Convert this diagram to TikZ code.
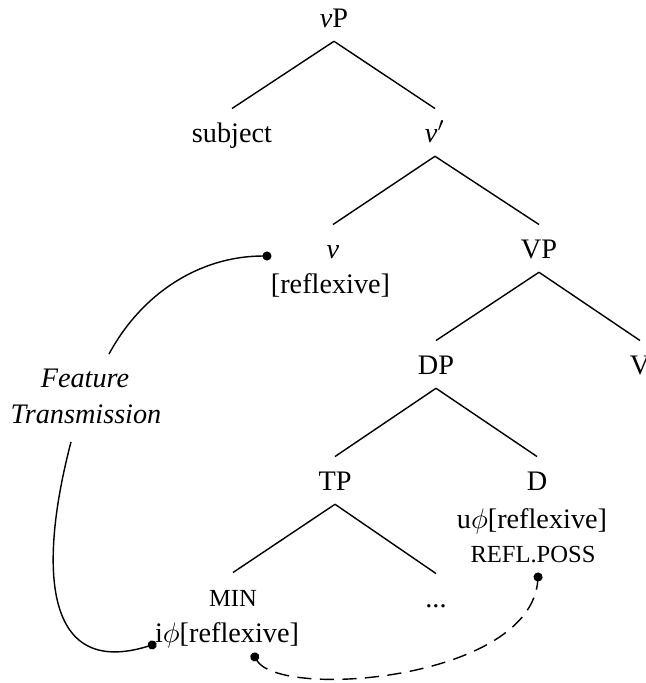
\documentclass[tikz,border=0pt]{standalone}
\usepackage{fontspec}
\setmainfont{Liberation Serif}
\usetikzlibrary{arrows.meta}
\tikzset{tnode/.style={anchor=base, inner xsep=0pt, inner ysep=4.8pt, text height=6.8pt, text depth=0pt},
  flat/.style={anchor=base, inner sep=0pt},
  dot/.style={-{Circle[length=3.2pt]}},
  dotdot/.style={{Circle[length=3.2pt]}-{Circle[length=3.2pt]}, dash pattern=on 5pt off 3pt}}
\newcommand{\smc}[1]{{\fontsize{8.7}{10}\selectfont #1}}

\begin{document}
\begin{tikzpicture}[x=1.244cm, y=-1.244cm, line width=0.5pt]
\useasboundingbox (0,0) rectangle (6.46,6.83);
% tree nodes
\node[tnode] (vP) at (3.34,0.27) {\textit{v}P};
\node[tnode] (subj) at (2.32,1.42) {subject};
\node[tnode] (vbar) at (4.35,1.42) {\textit{v}$'$};
\node[tnode] (v) at (3.33,2.58) {\textit{v}};
\node[flat] (vfeat) at (3.305,2.93) {[reflexive]};
\node[tnode] (VP) at (5.39,2.58) {VP};
\node[tnode] (DP) at (4.36,3.74) {DP};
\node[tnode] (V) at (6.40,3.74) {V};
\node[tnode] (TP) at (3.35,4.90) {TP};
\node[tnode] (D) at (5.37,4.90) {D};
\node[flat] (Dfeat) at (5.32,5.28) {u$\phi$[reflexive]};
\node[flat] (Dposs) at (5.33,5.62) {\smc{REFL.POSS}};
\node[tnode] (min) at (2.33,6.06) {\smc{MIN}};
\node[flat] (ifeat) at (2.27,6.42) {i$\phi$[reflexive]};
\node[tnode] (rest) at (4.36,6.07) {...};
% branches
\draw (vP.south) -- (subj.north);
\draw (vP.south) -- (vbar.north);
\draw (vbar.south) -- (v.north);
\draw (vbar.south) -- (VP.north);
\draw (VP.south) -- (DP.north);
\draw (VP.south) -- (V.north);
\draw (DP.south) -- (TP.north);
\draw (DP.south) -- (D.north);
\draw (TP.south) -- (min.north);
\draw (TP.south) -- (rest.north);
% feature transmission
\node[flat] (ft1) at (0.85,3.87) {\itshape Feature};
\node[flat] (ft2) at (0.86,4.23) {\itshape Transmission};
\coordinate (ftTop) at (1.09,3.54);
\coordinate (ftBot) at (0.71,4.42);
\coordinate (vdot) at (2.715,2.56);
\coordinate (idot) at (1.565,6.436);
\coordinate (ldot) at (2.525,6.53);
\coordinate (rdot) at (5.384,5.725);
\draw[dot] (ftTop) .. controls (1.42,2.93) and (2.0,2.56) .. (vdot);
\draw[dot] (ftBot) .. controls (0.40,5.60) and (0.40,6.80) .. (idot);
\draw[dotdot] (ldot) .. controls (2.80,7.00) and (5.30,6.80) .. (rdot);
\end{tikzpicture}
\end{document}
